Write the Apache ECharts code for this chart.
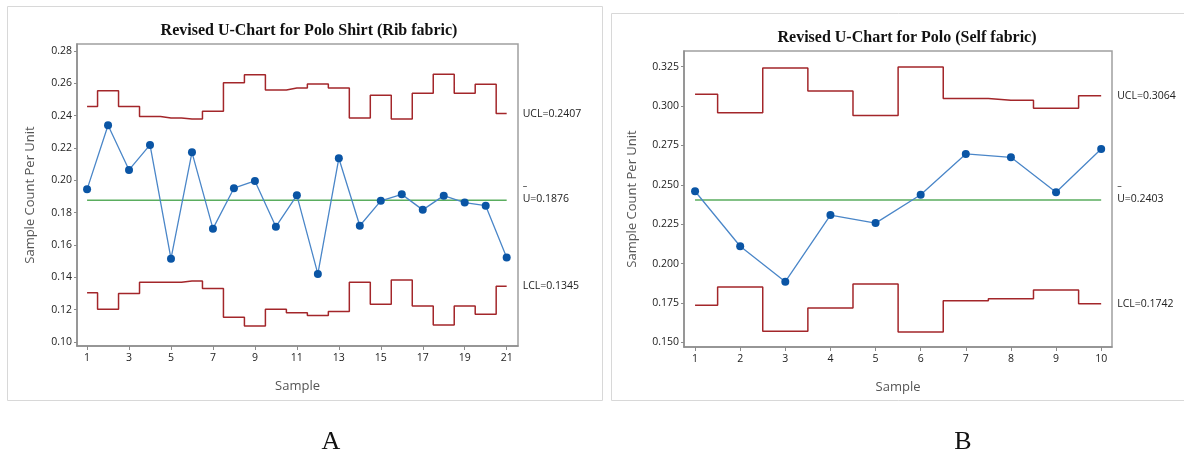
<!DOCTYPE html>
<html>
<head>
<meta charset="utf-8">
<script src="https://cdn.jsdelivr.net/npm/echarts@6/dist/echarts.min.js"></script>
<style>
  html, body { margin: 0; padding: 0; background: #fff; }
  #chart { width: 1184px; height: 454px; }
</style>
</head>
<body>
<div id="chart"></div>
<script>
// A: Polo Shirt (Rib fabric), 21 samples
const samplesA = [1, 2, 3, 4, 5, 6, 7, 8, 9, 10, 11, 12, 13, 14, 15, 16, 17, 18, 19, 20, 21]
const uA = [0.1944, 0.2340, 0.2064, 0.2219, 0.1515, 0.2173, 0.1701, 0.1951, 0.1996, 0.1713, 0.1907,
  0.1421, 0.2136, 0.1719, 0.1873, 0.1913, 0.1817, 0.1905, 0.1862, 0.1843, 0.1522]
const uclA = [0.2456, 0.2554, 0.2456, 0.2394, 0.2386, 0.2379, 0.2427, 0.2604, 0.2653, 0.2559, 0.2571,
  0.2596, 0.2571, 0.2386, 0.2526, 0.2379, 0.2538, 0.2656, 0.2538, 0.2594, 0.2413]
const lclA = [0.1305, 0.1202, 0.1299, 0.1369, 0.1369, 0.1377, 0.1330, 0.1153, 0.1099, 0.1202, 0.1181,
  0.1163, 0.1188, 0.1369, 0.1233, 0.1384, 0.1223, 0.1105, 0.1223, 0.1171, 0.1345]
const centerA = 0.1876
const yTicksA = [0.10, 0.12, 0.14, 0.16, 0.18, 0.20, 0.22, 0.24, 0.26, 0.28]
const xTicksA = [1, 3, 5, 7, 9, 11, 13, 15, 17, 19, 21]

// B: Polo (Self fabric), 10 samples
const samplesB = [1, 2, 3, 4, 5, 6, 7, 8, 9, 10]
const uB = [0.2459, 0.2110, 0.1885, 0.2308, 0.2257, 0.2437, 0.2696, 0.2675, 0.2453, 0.2727]
const uclB = [0.3075, 0.2958, 0.3242, 0.3096, 0.2941, 0.3248, 0.3049, 0.3037, 0.2986, 0.3066]
const lclB = [0.1735, 0.1851, 0.1570, 0.1718, 0.1870, 0.1566, 0.1764, 0.1777, 0.1832, 0.1745]
const centerB = 0.2403
const yTicksB = [0.150, 0.175, 0.200, 0.225, 0.250, 0.275, 0.300, 0.325]
const xTicksB = [1, 2, 3, 4, 5, 6, 7, 8, 9, 10]

const RED = '#a3262a'
const BLUE_LINE = '#4a86c8'
const BLUE_DOT = '#0a55a5'
const GREEN = '#5aad5e'
const AXIS = '#8c8c8c'
const TXT = '#222'
const SANS = '"Open Sans", "Noto Sans", sans-serif'
const SERIF = '"Liberation Serif", "DejaVu Serif", serif'

const pairs = (xs, ys) => xs.map((x, i) => [x, ys[i]])

function xAxisFor(gi, min, max, ticks) {
  return {
    type: 'value', gridIndex: gi, min: min, max: max,
    name: 'Sample', nameLocation: 'middle', nameGap: 34,
    nameTextStyle: { fontFamily: SANS, fontSize: 13, color: '#555' },
    splitLine: { show: false },
    axisLine: { lineStyle: { color: AXIS, width: 1.5 } },
    axisTick: { customValues: ticks, length: 4, lineStyle: { color: AXIS } },
    axisLabel: { customValues: ticks, fontFamily: SANS, fontSize: 10.5, color: TXT, margin: 7 }
  }
}

function yAxisFor(gi, min, max, ticks, digits, gap) {
  return {
    type: 'value', gridIndex: gi, min: min, max: max,
    name: 'Sample Count Per Unit', nameLocation: 'middle', nameGap: gap,
    nameTextStyle: { fontFamily: SANS, fontSize: 13, color: '#555' },
    splitLine: { show: false },
    axisLine: { show: true, lineStyle: { color: AXIS, width: 1.5 } },
    axisTick: { show: true, customValues: ticks, length: 3, lineStyle: { color: AXIS } },
    axisLabel: {
      customValues: ticks, fontFamily: SANS, fontSize: 10.5, color: TXT, margin: 5,
      formatter: v => v.toFixed(digits)
    }
  }
}

function chartSeries(idx, xs, u, ucl, lcl, center, uclTxt, lclTxt, centerTxt) {
  const endLbl = (txt, offY) => ({
    show: true, formatter: txt, distance: 16, offset: [0, offY],
    fontFamily: SANS, fontSize: 10.5, color: TXT, lineHeight: 13
  })
  return [
    {
      type: 'line', xAxisIndex: idx, yAxisIndex: idx, step: 'middle',
      data: pairs(xs, ucl), showSymbol: false, silent: true,
      lineStyle: { color: RED, width: 1.5 },
      endLabel: endLbl(uclTxt, 0)
    },
    {
      type: 'line', xAxisIndex: idx, yAxisIndex: idx, step: 'middle',
      data: pairs(xs, lcl), showSymbol: false, silent: true,
      lineStyle: { color: RED, width: 1.5 },
      endLabel: endLbl(lclTxt, 0)
    },
    {
      // center line, label drawn as a dash above "U="
      type: 'line', xAxisIndex: idx, yAxisIndex: idx,
      data: [[xs[0], center], [xs[xs.length - 1], center]], showSymbol: false, silent: true,
      lineStyle: { color: GREEN, width: 1.5 },
      endLabel: {
        show: true, distance: 16, offset: [0, -7],
        formatter: '{bar|–}\n' + centerTxt,
        fontFamily: SANS, fontSize: 10.5, color: TXT, lineHeight: 13,
        rich: { bar: { fontFamily: SANS, fontSize: 9, color: TXT, lineHeight: 12 } }
      }
    },
    {
      type: 'line', xAxisIndex: idx, yAxisIndex: idx,
      data: pairs(xs, u), symbol: 'circle', symbolSize: 8, silent: true,
      lineStyle: { color: BLUE_LINE, width: 1.3 },
      itemStyle: { color: BLUE_DOT }
    }
  ]
}

const chart = echarts.init(document.getElementById('chart'))
chart.setOption({
  animation: false,
  backgroundColor: '#fff',
  title: [
    {
      text: 'Revised U-Chart for Polo Shirt (Rib fabric)', left: 304, top: 18, textAlign: 'center',
      textStyle: { fontFamily: SERIF, fontWeight: 'bold', fontSize: 16, color: '#111' }
    },
    {
      text: 'Revised U-Chart for Polo (Self fabric)', left: 902, top: 25, textAlign: 'center',
      textStyle: { fontFamily: SERIF, fontWeight: 'bold', fontSize: 16, color: '#111' }
    },
    {
      text: 'A', left: 326, top: 424, textAlign: 'center',
      textStyle: { fontFamily: SERIF, fontWeight: 'normal', fontSize: 26, color: '#111' }
    },
    {
      text: 'B', left: 958, top: 424, textAlign: 'center',
      textStyle: { fontFamily: SERIF, fontWeight: 'normal', fontSize: 26, color: '#111' }
    }
  ],
  graphic: [
    { type: 'rect', shape: { x: 7.5, y: 6.5, width: 595, height: 394 }, style: { fill: null, stroke: '#d8d8d8', lineWidth: 1 }, silent: true },
    { type: 'rect', shape: { x: 611.5, y: 13.5, width: 600, height: 387 }, style: { fill: null, stroke: '#d8d8d8', lineWidth: 1 }, silent: true }
  ],
  grid: [
    { left: 77, top: 44, width: 441, height: 302, show: true, borderColor: '#a0a0a0', borderWidth: 1.5, backgroundColor: 'transparent' },
    { left: 684, top: 51, width: 428, height: 296, show: true, borderColor: '#a0a0a0', borderWidth: 1.5, backgroundColor: 'transparent' }
  ],
  xAxis: [
    xAxisFor(0, 0.52, 21.54, xTicksA),
    xAxisFor(1, 0.755, 10.24, xTicksB)
  ],
  yAxis: [
    yAxisFor(0, 0.0975, 0.2843, yTicksA, 2, 40),
    yAxisFor(1, 0.147, 0.335, yTicksB, 3, 45)
  ],
  series: [
    ...chartSeries(0, samplesA, uA, uclA, lclA, centerA, 'UCL=0.2407', 'LCL=0.1345', 'U=0.1876'),
    ...chartSeries(1, samplesB, uB, uclB, lclB, centerB, 'UCL=0.3064', 'LCL=0.1742', 'U=0.2403')
  ]
})
</script>
</body>
</html>
